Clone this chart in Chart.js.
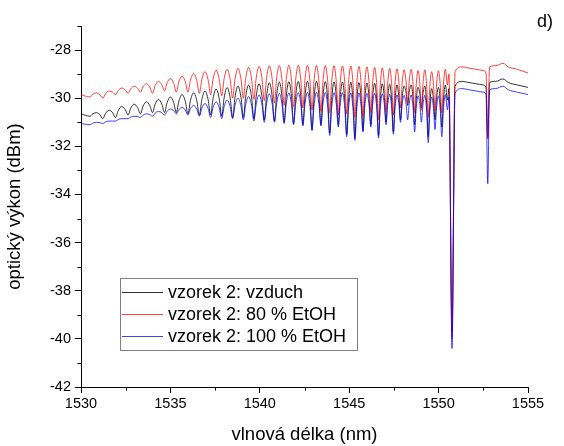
<!DOCTYPE html>
<html><head><meta charset="utf-8">
<script src="https://cdn.jsdelivr.net/npm/chart.js@4"></script>
<style>html,body{margin:0;padding:0;background:#fff}#wrap{width:564px;height:446px}</style>
</head><body><div id="wrap"><canvas id="c" width="564" height="446"></canvas></div>
<script>
// ---- data ----
const seriesLabels = ['vzorek 2: vzduch', 'vzorek 2: 80 % EtOH', 'vzorek 2: 100 % EtOH'];
const xTicks = [1530, 1535, 1540, 1545, 1550, 1555];
const xMinor = [1532.5, 1537.5, 1542.5, 1547.5, 1552.5];
const yTicks = [-42, -40, -38, -36, -34, -32, -30, -28];
const yMinor = [-41, -39, -37, -35, -33, -31, -29, -27];

const startNm = 1530.0;
// fringe minima positions (nm)
const dipNm = [1530.50, 1531.22, 1531.93, 1532.63, 1533.32, 1534.00, 1534.67, 1535.33, 1535.98, 1536.62,
  1537.25, 1537.87, 1538.48, 1539.08, 1539.67, 1540.25, 1540.82, 1541.36, 1541.89, 1542.41,
  1542.92, 1543.42, 1543.91, 1544.39, 1544.86, 1545.32, 1545.77, 1546.21, 1546.64, 1547.06,
  1547.47, 1547.87, 1548.27, 1548.66, 1549.04, 1549.42, 1549.80, 1550.18];
// after the fringes: deep notches near 1550.75 and 1552.75
const tailNm = [1550.58, 1550.75, 1550.92, 1551.3, 1551.7, 1552.1, 1552.5, 1552.65, 1552.75, 1552.85, 1553.2, 1553.6, 1553.9, 1554.4, 1555.0];

// vzduch (black)
const airStart = -30.65;
const airPeak = [-30.60, -30.50, -30.35, -30.25, -30.15, -30.05, -29.95, -29.85, -29.78, -29.70,
  -29.62, -29.56, -29.50, -29.45, -29.40, -29.36, -29.33, -29.31, -29.30, -29.30,
  -29.30, -29.31, -29.32, -29.33, -29.34, -29.35, -29.37, -29.38, -29.40, -29.42,
  -29.45, -29.50, -29.45, -29.55, -29.50, -29.60, -29.55, -29.45];
const airDip = [-30.75, -30.85, -30.80, -30.70, -30.65, -30.60, -30.60, -30.60, -30.65, -30.70,
  -30.70, -30.75, -30.80, -30.80, -30.85, -30.90, -30.95, -31.00, -31.05, -31.10,
  -31.30, -31.10, -31.45, -31.10, -31.50, -31.65, -31.35, -31.10, -31.55, -31.00,
  -31.40, -30.90, -30.30, -31.10, -30.40, -31.60, -30.90, -31.20];
const airTail = [-29.6, -39.7, -29.5, -29.3, -29.35, -29.4, -29.45, -29.55, -31.6, -29.35, -29.3, -29.2, -29.35, -29.45, -29.55];

// 80 % EtOH (red)
const e80Start = -29.85;
const e80Peak = [-29.78, -29.70, -29.58, -29.50, -29.40, -29.30, -29.18, -29.08, -28.98, -28.90,
  -28.84, -28.80, -28.76, -28.72, -28.68, -28.66, -28.64, -28.63, -28.63, -28.63,
  -28.64, -28.64, -28.65, -28.66, -28.66, -28.68, -28.70, -28.72, -28.74, -28.76,
  -28.78, -28.82, -28.80, -28.85, -28.82, -28.90, -28.86, -28.80];
const e80Dip = [-29.95, -30.00, -29.85, -29.80, -29.75, -29.80, -29.70, -29.75, -29.75, -29.80,
  -29.85, -29.90, -30.00, -30.00, -30.05, -30.10, -30.20, -30.30, -30.35, -30.40,
  -30.50, -30.55, -30.60, -30.70, -30.65, -30.80, -30.75, -30.60, -30.90, -30.55,
  -30.70, -30.40, -30.20, -30.60, -30.50, -30.80, -30.50, -30.60];
const e80Tail = [-29.0, -40.0, -28.9, -28.7, -28.75, -28.8, -28.85, -28.95, -31.7, -28.7, -28.65, -28.55, -28.7, -28.8, -28.95];

// 100 % EtOH (blue)
const e100Start = -31.05;
const e100Peak = [-31.00, -30.95, -30.85, -30.75, -30.65, -30.55, -30.45, -30.38, -30.30, -30.22,
  -30.15, -30.08, -30.00, -29.93, -29.86, -29.82, -29.80, -29.78, -29.77, -29.76,
  -29.76, -29.76, -29.77, -29.77, -29.78, -29.78, -29.80, -29.80, -29.82, -29.84,
  -29.86, -29.88, -29.86, -29.90, -29.88, -29.95, -29.90, -29.85];
const e100Dip = [-31.10, -31.05, -30.95, -30.85, -30.80, -30.75, -30.70, -30.65, -30.70, -30.75,
  -30.80, -30.85, -30.85, -30.90, -30.95, -31.00, -31.00, -31.05, -31.10, -31.15,
  -31.35, -31.15, -31.55, -31.20, -31.60, -31.75, -31.40, -31.20, -31.65, -31.10,
  -31.50, -31.00, -30.90, -31.40, -31.00, -31.85, -31.30, -31.60];
const e100Tail = [-29.95, -40.4, -29.8, -29.6, -29.65, -29.7, -29.75, -29.85, -33.55, -29.65, -29.6, -29.5, -29.65, -29.75, -29.85];

// ---- build point lists (fringe arches between the read minima / maxima) ----
function buildSeries(start, peaks, dips, tail) {
  const pts = [{x: startNm, y: start}];
  for (let i = 0; i < dipNm.length; i++) {
    const d = dipNm[i];
    const last = i === dipNm.length - 1;
    const next = last ? tailNm[0] : dipNm[i + 1];
    const g = next - d;
    const p = peaks[i];
    const nd = last ? dips[i] : dips[i + 1];
    pts.push({x: d, y: dips[i]});
    pts.push({x: d + 0.22 * g, y: p - 0.36 * (p - dips[i])});
    pts.push({x: d + 0.5 * g, y: p});
    pts.push({x: d + 0.78 * g, y: p - 0.36 * (p - nd)});
  }
  tailNm.forEach((x, i) => pts.push({x: x, y: tail[i]}));
  return pts;
}

const FONT = '"Liberation Sans", Arial, sans-serif';

const minorTicks = {
  id: 'minorTicks',
  afterDraw(chart) {
    const ctx = chart.ctx, xs = chart.scales.x, ys = chart.scales.y;
    ctx.save();
    ctx.strokeStyle = '#000';
    ctx.lineWidth = 1;
    ctx.beginPath();
    yMinor.forEach(v => {
      const py = Math.round(ys.getPixelForValue(v)) + 0.5;
      ctx.moveTo(xs.left - 3.5, py); ctx.lineTo(xs.left, py);
    });
    xMinor.forEach(v => {
      const px = Math.round(xs.getPixelForValue(v)) + 0.5;
      ctx.moveTo(px, ys.bottom); ctx.lineTo(px, ys.bottom + 3.5);
    });
    ctx.stroke();
    // panel label
    ctx.fillStyle = '#000';
    ctx.font = '18px ' + FONT;
    ctx.textAlign = 'left';
    ctx.textBaseline = 'middle';
    ctx.fillText('d)', 537, 22);
    ctx.restore();
  }
};

const boxLegend = {
  id: 'boxLegend',
  afterDraw(chart) {
    const ctx = chart.ctx;
    const x0 = 120.5, y0 = 278.5, w = 237, h = 72;
    ctx.save();
    ctx.fillStyle = '#fff';
    ctx.fillRect(x0, y0, w, h);
    ctx.strokeStyle = '#808080';
    ctx.lineWidth = 1;
    ctx.strokeRect(x0, y0, w, h);
    const rows = [292.5, 314.5, 336.5];
    ctx.font = '18px ' + FONT;
    ctx.textBaseline = 'middle';
    ctx.textAlign = 'left';
    chart.data.datasets.forEach((ds, i) => {
      ctx.strokeStyle = ds.borderColor;
      ctx.beginPath();
      ctx.moveTo(122, rows[i]); ctx.lineTo(163, rows[i]);
      ctx.stroke();
      ctx.fillStyle = '#000';
      ctx.fillText(ds.label, 168, rows[i] + 1);
    });
    ctx.restore();
  }
};

new Chart(document.getElementById('c'), {
  type: 'line',
  data: {
    datasets: [
      {label: seriesLabels[0], data: buildSeries(airStart, airPeak, airDip, airTail), borderColor: 'rgba(0,0,0,0.8)', order: 2},
      {label: seriesLabels[1], data: buildSeries(e80Start, e80Peak, e80Dip, e80Tail), borderColor: 'rgba(255,0,0,0.75)', order: 1},
      {label: seriesLabels[2], data: buildSeries(e100Start, e100Peak, e100Dip, e100Tail), borderColor: 'rgba(0,0,255,0.75)', order: 0}
    ]
  },
  options: {
    responsive: false,
    animation: false,
    devicePixelRatio: 1,
    layout: {padding: {top: 26, right: 36, left: 0, bottom: 0}},
    elements: {
      point: {radius: 0},
      line: {borderWidth: 1, cubicInterpolationMode: 'monotone', fill: false}
    },
    plugins: {legend: {display: false}, tooltip: {enabled: false}},
    scales: {
      x: {
        type: 'linear', min: 1530, max: 1555,
        afterBuildTicks: s => { s.ticks = xTicks.map(v => ({value: v})); },
        afterFit: s => { s.height = 59; },
        grid: {drawOnChartArea: false, drawTicks: true, tickLength: 6, color: '#000'},
        border: {display: true, color: '#000', width: 1},
        ticks: {color: '#000', font: {family: FONT, size: 14.5}, padding: 2, maxRotation: 0, callback: v => String(v)},
        title: {display: true, text: 'vlnová délka (nm)', color: '#000', font: {family: FONT, size: 18.5}, padding: {top: 2, bottom: 0}}
      },
      y: {
        type: 'linear', min: -42, max: -27,
        afterBuildTicks: s => { s.ticks = yTicks.map(v => ({value: v})); },
        afterFit: s => { s.width = 81; },
        grid: {drawOnChartArea: false, drawTicks: true, tickLength: 6, color: '#000'},
        border: {display: true, color: '#000', width: 1},
        ticks: {color: '#000', font: {family: FONT, size: 14.5}, padding: 4, callback: v => String(v)},
        title: {display: true, text: 'optický výkon (dBm)', color: '#000', font: {family: FONT, size: 18.5}, padding: {top: 4, bottom: 0}}
      }
    }
  },
  plugins: [minorTicks, boxLegend]
});
</script></body></html>
